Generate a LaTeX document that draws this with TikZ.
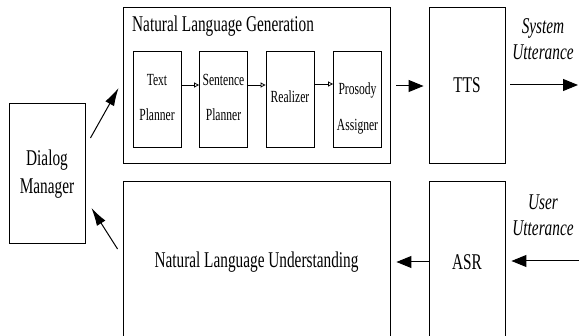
\documentclass[tikz,border=0pt]{standalone}
\usepackage{fontspec}
\setmainfont{Liberation Serif}[FakeStretch=0.68]
\usetikzlibrary{arrows.meta}
\begin{document}
\begin{tikzpicture}[x=1pt,y=-1pt,
  box/.style={draw, line width=0.9pt, inner sep=0pt, anchor=center},
  stagebox/.style={draw, line width=0.8pt, inner sep=0pt, minimum width=48pt, minimum height=96pt},
  bigfont/.style={font=\fontsize{22.5}{28}\selectfont},
  smallfont/.style={font=\fontsize{17}{35}\selectfont},
  label/.style={inner sep=0pt, align=center},
  bigarrow/.style={line width=1pt, -{Triangle[length=15pt,width=12pt]}},
  slant/.style={line width=1pt, -{Latex[length=18pt,width=10pt]}},
  smallarrow/.style={line width=0.8pt, -{Triangle[open,length=5pt,width=5pt]}}]
\useasboundingbox (0,0) rectangle (579,336);
\clip (0,0) rectangle (579,336);

% outer modules
\node[box, minimum width=267pt, minimum height=156pt] (nlg) at (256.5,85) {};
\node[box, minimum width=76pt, minimum height=156pt] (tts) at (467,85) {};
\node[box, minimum width=267pt, minimum height=162pt] (nlu) at (256.5,262) {};
\node[box, minimum width=76pt, minimum height=162pt] (asr) at (467,262) {};
\node[box, minimum width=76pt, minimum height=140pt] (dm) at (47,173) {};

% generation pipeline stages
\node[stagebox] (tp) at (157,99) {};
\node[stagebox] (sp) at (223.5,99) {};
\node[stagebox] (rz) at (290,99) {};
\node[stagebox] (pa) at (357.5,99) {};

% texts
\node[label, bigfont, anchor=west] (nlgt) at (132,26) {Natural Language Generation};
\node[label, bigfont] (ttst) at (tts) {TTS};
\node[label, bigfont] (asrt) at (asr) {ASR};
\node[label, bigfont] (nlut) at (nlu) {Natural Language Understanding};
\node[label, bigfont] (dmt) at (47,174) {Dialog\\Manager};
\node[label, font=\fontsize{22.5}{26}\selectfont\itshape] (sut) at (543,39) {System\\Utterance};
\node[label, font=\fontsize{22.5}{26}\selectfont\itshape] (uut) at (543,215) {User\\Utterance};
\node[label, smallfont] (tpt) at (157,97.5) {Text\\Planner};
\node[label, smallfont] (spt) at (223.5,97.5) {Sentence\\Planner};
\node[label, smallfont] (rzt) at (290,97) {Realizer};
\node[label, font=\fontsize{17}{36}\selectfont] (pat) at (357.5,108) {Prosody\\Assigner};

% connectors
\coordinate (sysout) at (578,85);
\coordinate (userin) at (579,261);
\draw[smallarrow] ([yshift=14pt]tp.east) -- ([yshift=14pt]sp.west);
\draw[smallarrow] ([yshift=14pt]sp.east) -- ([yshift=14pt]rz.west);
\draw[smallarrow] ([yshift=15pt]rz.east) -- ([yshift=15pt]pa.west);
\draw[bigarrow] ([xshift=6pt,yshift=-1pt]nlg.east) -- ([xshift=-5pt,yshift=-1pt]tts.west);
\draw[bigarrow] ([xshift=5pt]tts.east) -- (sysout);
\draw[bigarrow] (userin) -- ([xshift=6pt,yshift=1pt]asr.east);
\draw[bigarrow] (asr.west) -- ([xshift=6pt]nlu.east);
\draw[slant] ([shift={(5,-35)}]dm.east) -- ([shift={(-4,3)}]nlg.west);
\draw[slant] ([shift={(-5,-13)}]nlu.west) -- ([shift={(6,35)}]dm.east);
\end{tikzpicture}
\end{document}
